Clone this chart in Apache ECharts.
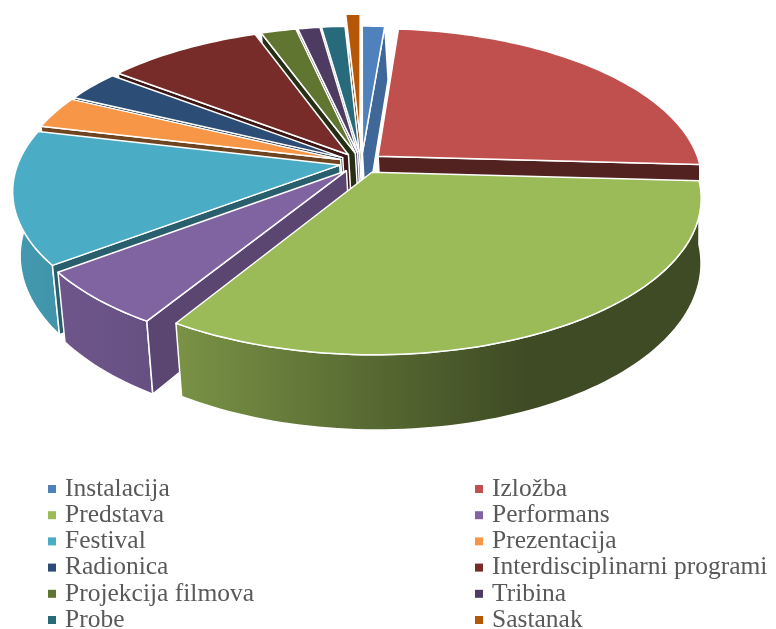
<!DOCTYPE html>
<html>
<head>
<meta charset="utf-8">
<style type="text/css">
html,body{margin:0;padding:0;background:#fff;}
#main{width: 776px; height: 629px;}
</style>
</head>
<body>
<div id="main"></div>
<script src="https://cdn.jsdelivr.net/npm/echarts@6/dist/echarts.min.js"></script>
<script type="text/javascript">
var names = ['Instalacija','Izložba','Predstava','Performans','Festival','Prezentacija','Radionica','Interdisciplinarni programi','Projekcija filmova','Tribina','Probe','Sastanak'];
var values = [1.3,24.5,32.8,5.92,13.94,3.38,3.23,9.05,2.05,1.29,1.36,0.85];
var colors = ['#4f81bd','#c0504d','#9bbb59','#8064a2','#4bacc6','#f79646','#2c4d75','#772c2a','#5f7530','#4d3b62','#276a7c','#b65708'];
var explode = [0.069,0.069,0.069,0.069,0.069,0.069,0.069,0.069,0.069,0.069,0.069,0.18];
// how dark the visible cut face of each slice is
var faceTone = [0.8,0.42,0.4,0.7,0.55,0.45,0.5,0.5,0.4,0.7,0.7,0.7];

// fake 3d view, echarts has no tilted pie
var view = {cx:361.5, cy:163, rx:321.5, ry:150, depth:62.5, persp:0.16, taper:0.011, pivot:690};

function project(x, y, z){
    var w = 1 / (1 - view.persp * y);
    var sx = view.cx + view.rx * x * w;
    return [
        sx - view.taper * z * (sx - view.pivot),
        view.cy + view.ry * y * w + view.depth * z * w
    ];
}

function shade(hex, k){
    var n = parseInt(hex.slice(1), 16);
    var r = Math.round((n >> 16) * k), g = Math.round(((n >> 8) & 255) * k), b = Math.round((n & 255) * k);
    return 'rgb(' + r + ',' + g + ',' + b + ')';
}

function wallFill(hex){
    return new echarts.graphic.LinearGradient(0, 0, 776, 0, [
        {offset:0, color:shade(hex, 0.9)},
        {offset:0.23, color:shade(hex, 0.78)},
        {offset:0.55, color:shade(hex, 0.5)},
        {offset:0.68, color:shade(hex, 0.4)},
        {offset:1, color:shade(hex, 0.4)}
    ], true);
}

var total = values.reduce(function(a, b){ return a + b; }, 0);
var starts = [];
values.reduce(function(sum, v, i){ starts[i] = sum / total * Math.PI * 2; return sum + v; }, 0);

function poly(points, fill){
    return {
        type:'polygon',
        shape:{points:points},
        style:{fill:fill, stroke:'#fff', lineWidth:1.5, lineJoin:'round'}
    };
}

function drawSlice(i){
    var a0 = starts[i];
    var a1 = a0 + values[i] / total * Math.PI * 2;
    var mid = (a0 + a1) / 2;
    var ox = Math.sin(mid) * explode[i], oy = -Math.cos(mid) * explode[i];
    var steps = Math.max(4, Math.ceil((a1 - a0) * 40));
    var rim = [];
    for (var s = 0; s <= steps; s++) {
        var a = a0 + (a1 - a0) * s / steps;
        rim.push([ox + Math.sin(a), oy - Math.cos(a)]);
    }
    var top = [project(ox, oy, 0)];
    rim.forEach(function(p){ top.push(project(p[0], p[1], 0)); });

    var kids = [];
    // outer wall, only the arc part that faces the viewer
    var front = rim.filter(function(p){ return p[1] - oy > -0.02; });
    if (front.length > 1) {
        var wall = front.map(function(p){ return project(p[0], p[1], 0); });
        front.slice().reverse().forEach(function(p){ wall.push(project(p[0], p[1], 1)); });
        kids.push(poly(wall, wallFill(colors[i])));
    }
    // cut faces
    var dark = shade(colors[i], faceTone[i]);
    function face(p){
        kids.push(poly([project(ox, oy, 0), project(p[0], p[1], 0), project(p[0], p[1], 1), project(ox, oy, 1)], dark));
    }
    if (Math.sin(a0) < 0) face(rim[0]);
    if (Math.sin(a1) > 0) face(rim[rim.length - 1]);
    kids.push(poly(top, colors[i]));
    return {type:'group', children:kids};
}

// paint back slices first
var order = names.map(function(n, i){ return i; }).sort(function(p, q){
    var mp = starts[p] + values[p] / total * Math.PI;
    var mq = starts[q] + values[q] / total * Math.PI;
    return Math.cos(mq) - Math.cos(mp);
});

var series = order.map(function(i){
    return {
        name:names[i],
        type:'custom',
        coordinateSystem:'none',
        itemStyle:{color:colors[i]},
        data:[values[i]],
        silent:true,
        animation:false,
        renderItem:function(){ return drawSlice(i); }
    };
});

function legendCol(left, start){
    return {
        orient:'vertical',
        left:left,
        top:476,
        height:300,
        padding:0,
        itemWidth:8,
        itemHeight:8,
        itemGap:0.2,
        icon:'rect',
        selectedMode:false,
        data:names.filter(function(n, i){ return i % 2 === start; }),
        textStyle:{fontFamily:'Liberation Serif', fontSize:25.5, color:'#595959', lineHeight:22, padding:[0,0,0,4]}
    };
}

var chart = echarts.init(document.getElementById('main'), null, {renderer:'canvas'});
chart.setOption({
    animation:false,
    legend:[legendCol(48, 0), legendCol(475, 1)],
    series:series
});
</script>
</body>
</html>
